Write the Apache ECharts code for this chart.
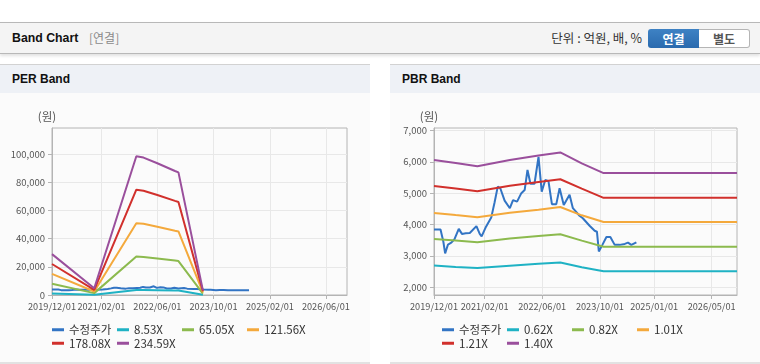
<!DOCTYPE html>
<html><head><meta charset="utf-8">
<script src="https://cdn.jsdelivr.net/npm/echarts@6/dist/echarts.min.js"></script>
<style>
html,body{margin:0;padding:0;width:760px;height:364px;overflow:hidden;background:#fff;font-family:"Noto Sans CJK KR","Noto Sans",sans-serif;}
#topbar{position:absolute;left:0;top:22px;width:760px;height:30px;background:#f4f4f4;border-top:1px solid #b8b8b8;border-bottom:1px solid #b8b8b8;box-shadow:0 2px 3px rgba(0,0,0,0.12);}
#title{position:absolute;left:12px;top:0;line-height:30px;font-size:12.3px;font-weight:bold;color:#111;font-family:"Liberation Sans",Arial,sans-serif;}
#sub{position:absolute;left:89px;top:0;line-height:30px;font-size:12px;color:#8a8a8a;}
#unit{position:absolute;right:118px;top:0;line-height:30px;font-size:12.5px;color:#333;}
#btns{position:absolute;left:648px;top:6px;width:103px;height:19px;border-radius:3px;overflow:hidden;font-size:12px;font-weight:bold;}
#b1{position:absolute;left:0;top:0;width:51px;height:19px;line-height:19px;text-align:center;color:#fff;background:linear-gradient(#3e82c4,#2a6aae);}
#b2{position:absolute;left:51px;top:0;width:50px;height:17px;line-height:17px;text-align:center;color:#555;background:#fff;border:1px solid #b5b5b5;border-left:none;border-radius:0 3px 3px 0;}
.panel{position:absolute;top:64px;height:297px;width:370px;background:#fbfbfb;border-top:1px solid #d2d2d2;border-bottom:2px solid #e2e2e2;}
.ph{height:28px;background:#eef1f6;line-height:28px;padding-left:12px;font-weight:bold;font-size:12px;color:#111;font-family:"Liberation Sans",Arial,sans-serif;}
.chart{position:absolute;top:0;width:380px;height:364px;}
</style></head>
<body>
<div id="topbar"><div id="title">Band Chart</div><div id="sub">[연결]</div><div id="unit">단위 : 억원, 배, %</div>
<div id="btns"><div id="b1">연결</div><div id="b2">별도</div></div></div>
<div class="panel" style="left:0"><div class="ph">PER Band</div></div>
<div class="panel" style="left:390px"><div class="ph">PBR Band</div></div>
<div id="c1" class="chart" style="left:0"></div>
<div id="c2" class="chart" style="left:380px"></div>
<script>
// ---- data ----
const priceDates = ['2019-12-01','2020-01-25','2020-02-18','2020-03-04','2020-03-28','2020-04-25','2020-05-22','2020-06-27','2020-07-24','2020-08-25','2020-09-28','2020-11-23','2020-12-21','2021-01-06','2021-02-12','2021-03-28','2021-04-25','2021-05-22','2021-06-13','2021-07-19','2021-09-01','2021-09-28','2021-11-01','2021-12-07','2022-01-04','2022-01-28','2022-02-22','2022-03-28','2022-05-01','2022-05-28','2022-06-27','2022-07-24','2022-08-22','2022-09-28','2022-10-26','2022-11-30','2023-01-18','2023-02-15','2023-04-12','2023-05-10','2023-07-06','2023-08-18','2023-09-06','2023-09-22','2023-10-22','2023-11-25','2023-12-28','2024-02-03','2024-03-16','2024-04-28','2024-05-25','2024-06-22','2024-08-04'];
const priceValues = [3840,3840,3450,3080,3360,3420,3530,3860,3700,3720,3730,3950,3700,3620,3930,4220,4700,5210,5150,4760,4520,4780,4730,5000,5100,5740,5300,5300,6160,5050,5420,5380,4650,4650,5160,4620,4950,4520,4280,4200,3960,3800,3770,3140,3350,3600,3600,3350,3350,3380,3420,3350,3430];

const perDates = ['2019-12-01','2020-12-01','2021-12-01','2022-02-01','2022-06-01','2022-11-01','2022-12-01','2023-07-01'];
const per853 = [1050, 180, 3600, 3550, 3400, 3200, 3150, 250];
const per6505 = [8000, 1330, 27300, 27000, 25900, 24400, 24100, 1000];
const per12156 = [15000, 2500, 50900, 50500, 48400, 45600, 45100, 1800];
const per17808 = [22000, 3650, 74700, 74000, 71000, 66800, 66000, 2600];
const per23459 = [29000, 4800, 98500, 97500, 93500, 88000, 87000, 3300];

const pbrDates = ['2019-12-01','2020-06-01','2020-12-01','2021-09-01','2022-05-01','2022-11-01','2023-05-01','2023-11-01','2026-12-01'];
const pbr062 = [2690, 2640, 2610, 2684, 2746, 2790, 2635, 2510, 2510];
const pbr082 = [3540, 3490, 3430, 3550, 3632, 3690, 3485, 3290, 3290];
const pbr101 = [4370, 4300, 4235, 4372, 4473, 4560, 4293, 4080, 4080];
const pbr121 = [5230, 5150, 5060, 5238, 5359, 5445, 5143, 4850, 4850];
const pbr140 = [6060, 5960, 5860, 6060, 6200, 6300, 5950, 5640, 5640];

const perNames = ['수정주가','8.53X','65.05X','121.56X','178.08X','234.59X'];
const pbrNames = ['수정주가','0.62X','0.82X','1.01X','1.21X','1.40X'];

const perXTicks = ['2019-12-01','2021-02-01','2022-06-01','2023-10-01','2025-02-01','2026-06-01'];
const pbrXTicks = ['2019-12-01','2021-02-01','2022-06-01','2023-10-01','2025-01-01','2026-05-01'];
const perYTicks = [0,20000,40000,60000,80000,100000];
const pbrYTicks = [2000,3000,4000,5000,6000,7000];
const xRange = ['2019-12-01','2026-12-01'];
const perYRange = [0, 118500];
const pbrYRange = [1750, 7080];

const colors = ['#3274c4','#1fb2c4','#8cba4e','#f4a93c','#d1302c','#9a4f9c'];

// ---- build ----
const ts = s => new Date(s + 'T00:00:00').getTime();
const pad = n => (n < 10 ? '0' : '') + n;
const fmtDate = v => { const d = new Date(v); return d.getFullYear() + '/' + pad(d.getMonth()+1) + '/' + pad(d.getDate()); };
const pairs = (ds, vs) => ds.map((d, i) => [ts(d), vs[i]]);
const cjk = '"Noto Sans CJK KR","Noto Sans",sans-serif';
const addCommas = v => String(v).replace(/\B(?=(\d{3})+(?!\d))/g, ',');

function makeOption(gridLeft, gridWidth, names, bandDates, bands, xTicks, yTicks, yRange, legendLeft) {
  const series = [{ name: names[0], data: pairs(priceDates, priceValues) }]
    .concat(bands.map((b, i) => ({ name: names[i+1], data: pairs(bandDates, b) })))
    .map((s, i) => Object.assign(s, {
      type: 'line', showSymbol: false, symbol: 'none', animation: false,
      lineStyle: { width: 2, color: colors[i] }, itemStyle: { color: colors[i] }
    }));
  return {
    animation: false,
    color: colors,
    grid: { left: gridLeft, top: 128, width: gridWidth, height: 167, show: true, borderColor: '#b4b4b4', borderWidth: 1, backgroundColor: 'transparent' },
    xAxis: {
      type: 'value', min: ts(xRange[0]), max: ts(xRange[1]),
      axisLine: { lineStyle: { color: '#b4b4b4' } },
      axisTick: { show: true, length: 4, customValues: xTicks.map(ts), lineStyle: { color: '#b4b4b4' } },
      axisLabel: { customValues: xTicks.map(ts), formatter: fmtDate, color: '#555', fontSize: 9.2, margin: 7, fontFamily: cjk, hideOverlap: false, showMinLabel: true, showMaxLabel: true },
      splitLine: { show: true, lineStyle: { color: '#e8e8e8' } }
    },
    yAxis: {
      type: 'value', min: yRange[0], max: yRange[1],
      name: '(원)', nameLocation: 'end', nameGap: 6,
      nameTextStyle: { color: '#555', fontSize: 11.5, fontFamily: cjk, padding: [0, 10, 0, 0] },
      axisLine: { show: true, lineStyle: { color: '#b4b4b4' } },
      axisTick: { show: true, length: 4, customValues: yTicks, lineStyle: { color: '#b4b4b4' } },
      axisLabel: { customValues: yTicks, formatter: addCommas, color: '#555', fontSize: 9.5, margin: 7, fontFamily: cjk, showMinLabel: true, showMaxLabel: true },
      splitLine: { show: true, lineStyle: { color: '#e8e8e8' } }
    },
    legend: {
      data: names, left: legendLeft, top: 323, width: 265, orient: 'horizontal', padding: 0,
      icon: 'rect', itemWidth: 12, itemHeight: 3, itemGap: 0,
      textStyle: { fontSize: 11.5, color: '#333', fontFamily: cjk, width: 48, lineHeight: 13.5 }
    },
    series: series
  };
}

const c1 = echarts.init(document.getElementById('c1'), null, { renderer: 'canvas' });
c1.setOption(makeOption(52, 295, perNames, perDates, [per853, per6505, per12156, per17808, per23459], perXTicks, perYTicks, perYRange, 52));
const c2 = echarts.init(document.getElementById('c2'), null, { renderer: 'canvas' });
c2.setOption(makeOption(54, 303, pbrNames, pbrDates, [pbr062, pbr082, pbr101, pbr121, pbr140], pbrXTicks, pbrYTicks, pbrYRange, 62));
</script>
</body></html>
